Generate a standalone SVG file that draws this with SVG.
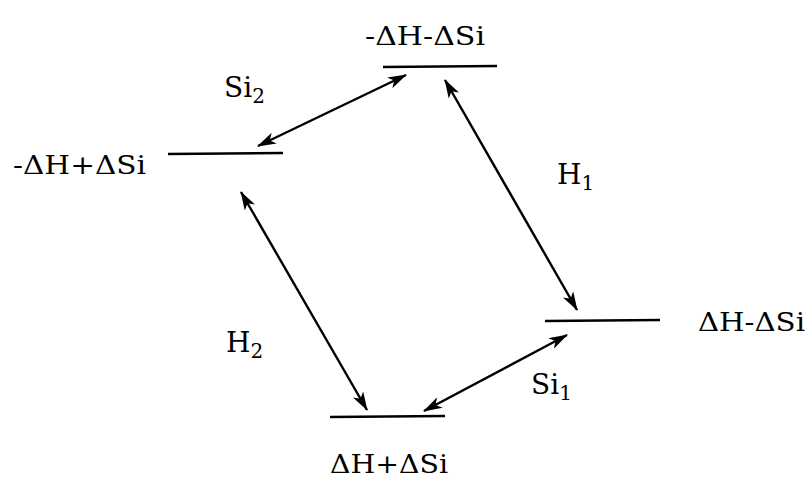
<svg xmlns="http://www.w3.org/2000/svg" width="810" height="480" viewBox="0 0 810 480">
<defs>
<style>
.lvl{stroke:#000;stroke-width:2.4;fill:none}
.arr{stroke:#000;stroke-width:2.4;fill:none;marker-start:url(#ah);marker-end:url(#ah)}
text{font-family:"DejaVu Serif","Liberation Serif",serif;font-size:26px;fill:#000}
.lab{font-size:28px}
.sub{font-size:20px}
</style>
<marker id="ah" viewBox="0 0 19 12" refX="18" refY="6" markerWidth="19" markerHeight="12" markerUnits="userSpaceOnUse" orient="auto-start-reverse">
<path d="M0,0 L19,6 L0,12 L5,6 z" fill="#000"/>
</marker>
</defs>
<rect width="810" height="480" fill="#fff"/>
<g id="level-top">
<line class="lvl" x1="383" y1="67" x2="497" y2="66"/>
<text x="365" y="45" textLength="120" lengthAdjust="spacingAndGlyphs">-ΔH-ΔSi</text>
</g>
<g id="level-left">
<line class="lvl" x1="168" y1="154" x2="283" y2="153"/>
<text x="13" y="174" textLength="133" lengthAdjust="spacingAndGlyphs">-ΔH+ΔSi</text>
</g>
<g id="level-right">
<line class="lvl" x1="545" y1="321" x2="660" y2="320"/>
<text x="698" y="331" textLength="107" lengthAdjust="spacingAndGlyphs">ΔH-ΔSi</text>
</g>
<g id="level-bottom">
<line class="lvl" x1="330" y1="417" x2="445" y2="416"/>
<text x="330" y="473" textLength="118" lengthAdjust="spacingAndGlyphs">ΔH+ΔSi</text>
</g>
<g id="connectors">
<line class="arr" x1="258" y1="146" x2="406" y2="75"/>
<line class="arr" x1="445" y1="80" x2="577" y2="310"/>
<line class="arr" x1="241" y1="192" x2="367" y2="410"/>
<line class="arr" x1="424" y1="411" x2="567" y2="335"/>
</g>
<g id="labels">
<text class="lab" x="224" y="97">Si<tspan class="sub" dy="6">2</tspan></text>
<text class="lab" x="557" y="184">H<tspan class="sub" dy="6">1</tspan></text>
<text class="lab" x="226" y="352">H<tspan class="sub" dy="6">2</tspan></text>
<text class="lab" x="531" y="394">Si<tspan class="sub" dy="6">1</tspan></text>
</g>
</svg>
